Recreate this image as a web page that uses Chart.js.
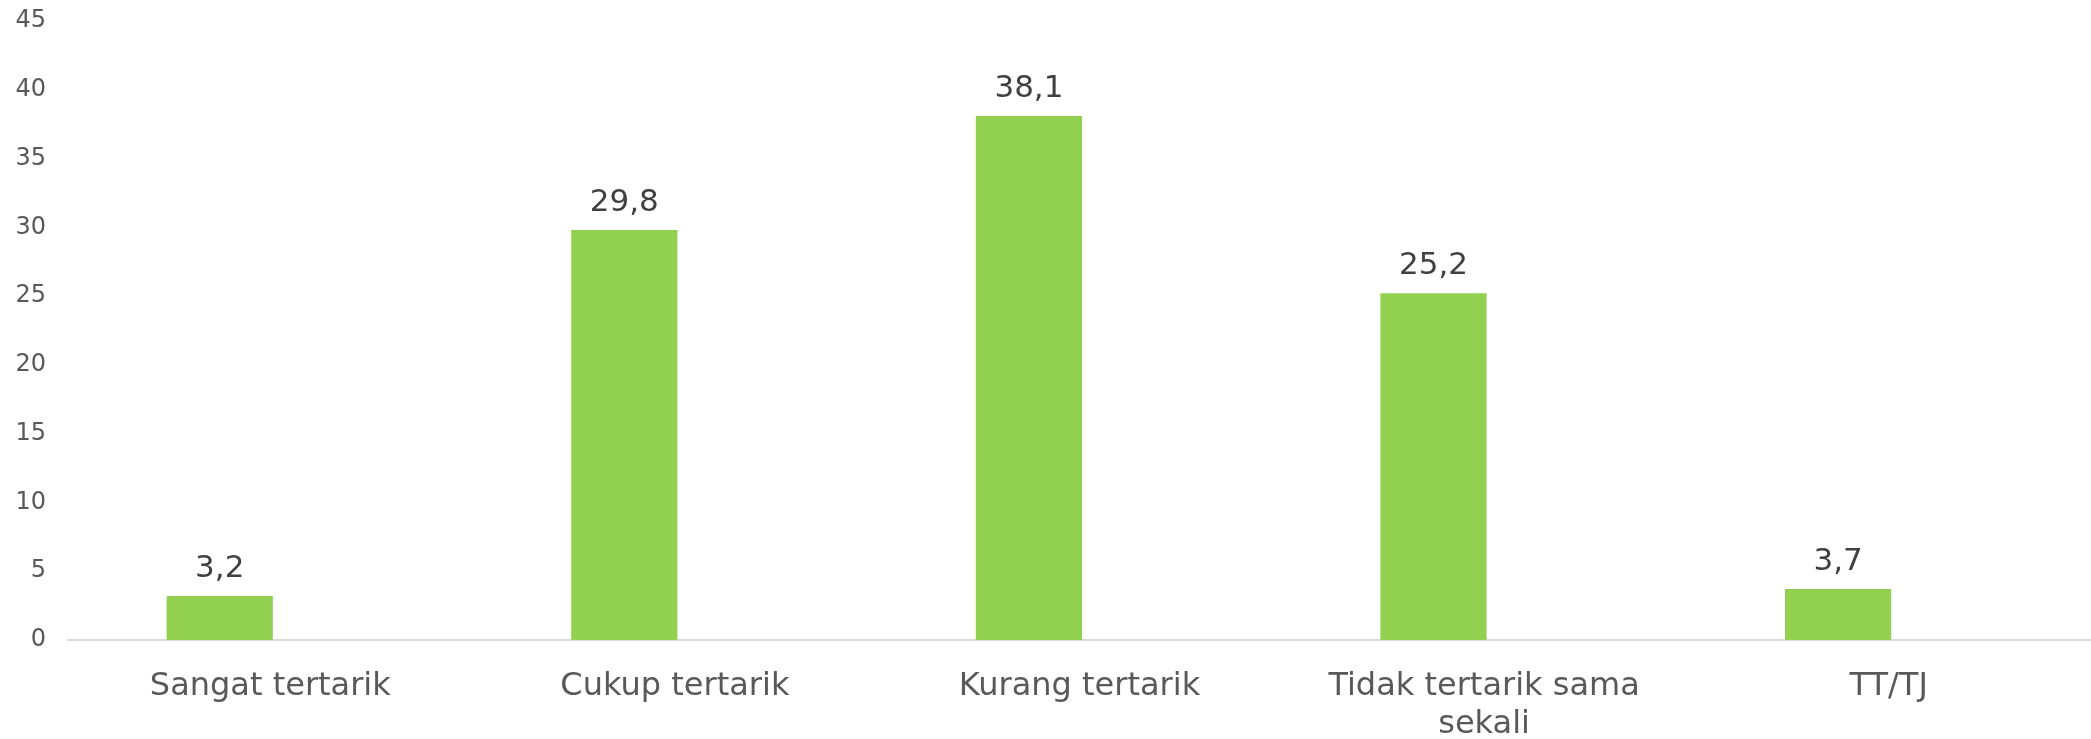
<!DOCTYPE html>
<html>
<head>
<meta charset="utf-8">
<script src="https://cdn.jsdelivr.net/npm/chart.js@4/dist/chart.umd.min.js"></script>
<style>
  html, body { margin: 0; padding: 0; background: #ffffff; }
  #wrap { width: 2091px; height: 739px; }
</style>
</head>
<body>
<div id="wrap"><canvas id="c" width="2091" height="739"></canvas></div>
<script>
const categories = ["Sangat tertarik", "Cukup tertarik", "Kurang tertarik", ["Tidak tertarik sama", "sekali"], "TT/TJ"];
const seriesValues = [3.2, 29.8, 38.1, 25.2, 3.7];
const emptySeries = [null, null, null, null, null];
const yTicks = [0, 5, 10, 15, 20, 25, 30, 35, 40, 45];

const valueLabels = {
  id: 'valueLabels',
  afterDatasetsDraw(chart) {
    const ctx = chart.ctx;
    const meta = chart.getDatasetMeta(0);
    ctx.save();
    ctx.font = '31px "DejaVu Sans"';
    ctx.fillStyle = '#404040';
    ctx.textAlign = 'center';
    ctx.textBaseline = 'alphabetic';
    meta.data.forEach((bar, i) => {
      const v = chart.data.datasets[0].data[i];
      ctx.fillText(v.toFixed(1).replace('.', ','), bar.x, bar.y - 19);
    });
    ctx.restore();
  }
};

new Chart(document.getElementById('c'), {
  type: 'bar',
  data: {
    labels: categories,
    datasets: [
      { data: seriesValues, backgroundColor: '#92D050', borderWidth: 0,
        categoryPercentage: 0.5, barPercentage: 1.05 },
      { data: emptySeries, backgroundColor: 'rgba(0,0,0,0)', borderWidth: 0,
        categoryPercentage: 0.5, barPercentage: 1.05 }
    ]
  },
  options: {
    responsive: false,
    animation: false,
    devicePixelRatio: 1,
    layout: { padding: { top: 21, right: 0, bottom: 0, left: 0 } },
    plugins: { legend: { display: false }, tooltip: { enabled: false } },
    scales: {
      x: {
        grid: { display: false, drawTicks: false },
        border: { display: true, color: '#D9D9D9', width: 2 },
        ticks: {
          color: '#595959',
          font: { family: '"DejaVu Sans"', size: 32, lineHeight: 1.19 },
          padding: 28,
          maxRotation: 0,
          autoSkip: false
        },
        afterFit(scale) { scale.height = 99; scale.paddingLeft = 0; scale.paddingRight = 0; }
      },
      y: {
        min: 0,
        max: 45,
        afterBuildTicks(scale) { scale.ticks = yTicks.map(v => ({ value: v })); },
        grid: { display: false, drawTicks: false },
        border: { display: false },
        ticks: {
          color: '#595959',
          font: { family: '"DejaVu Sans"', size: 24 },
          padding: 22
        },
        afterFit(scale) { scale.width = 68; scale.paddingTop = 0; scale.paddingBottom = 0; }
      }
    }
  },
  plugins: [valueLabels]
});
</script>
</body>
</html>
